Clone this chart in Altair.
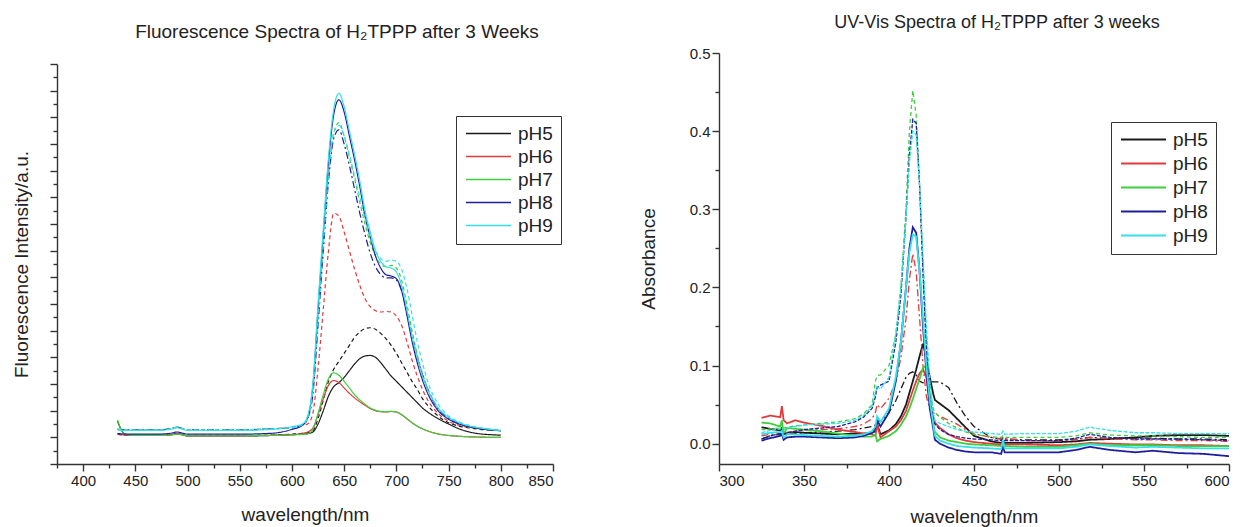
import altair as alt
import pandas as pd

PH = ["pH5", "pH6", "pH7", "pH8", "pH9"]
COLORS = ["#1a1a1a", "#e23b3b", "#3dcf3d", "#1f1f9e", "#35e0e6"]

# ---------------- Fluorescence panel (intensity, a.u.) ----------------
L_WL = [433, 437, 440, 450, 470, 485, 490, 495, 500, 520, 550, 580, 600, 610, 615,
        620, 625, 630, 635, 640, 645, 650, 655, 660, 665, 670, 675, 680, 685, 690,
        695, 700, 705, 710, 715, 720, 725, 730, 740, 750, 760, 770, 780, 790, 800]

L_PH5_SOLID = [160, 125, 112, 107, 107, 110, 114, 110, 105, 105, 105, 107, 110, 112, 114,
               120, 150, 200, 255, 290, 305, 325, 350, 375, 395, 405, 407, 400, 380, 355,
               330, 310, 290, 270, 250, 230, 210, 195, 170, 150, 132, 120, 113, 110, 108]
L_PH5_DASH = [112, 109, 108, 107, 107, 110, 114, 110, 107, 107, 107, 108, 112, 115, 118,
              125, 170, 240, 310, 355, 385, 415, 445, 475, 495, 508, 511, 505, 490, 470,
              445, 415, 380, 345, 310, 280, 245, 220, 180, 155, 142, 135, 130, 127, 125]
L_PH6_SOLID = [115, 110, 108, 107, 107, 110, 113, 110, 106, 106, 106, 108, 110, 115, 120,
               135, 185, 245, 295, 313, 305, 285, 265, 248, 233, 220, 208, 200, 196, 195,
               197, 195, 185, 170, 155, 142, 132, 124, 113, 107, 104, 102, 101, 100, 100]
L_PH6_DASH = [130, 129, 128, 128, 128, 133, 138, 133, 128, 128, 128, 132, 138, 145, 150,
              190, 360, 580, 800, 940, 930, 870, 800, 730, 670, 620, 590, 575, 570, 572,
              570, 555, 520, 460, 390, 330, 280, 240, 190, 160, 145, 138, 132, 128, 125]
L_PH7_SOLID = [165, 125, 112, 107, 107, 109, 112, 109, 106, 106, 106, 107, 109, 111, 113,
               130, 190, 260, 320, 342, 333, 310, 285, 260, 240, 224, 210, 202, 197, 196,
               197, 195, 185, 170, 155, 142, 132, 124, 113, 107, 104, 102, 101, 100, 100]
L_PH7_DASH = [130, 129, 128, 128, 128, 133, 138, 133, 128, 128, 128, 132, 135, 145, 170,
              280, 560, 830, 1080, 1240, 1280, 1230, 1150, 1070, 980, 900, 830, 780, 750, 740,
              745, 735, 690, 600, 500, 410, 340, 285, 210, 175, 155, 142, 135, 130, 126]
L_PH8_SOLID = [114, 113, 112, 112, 112, 116, 120, 116, 112, 112, 112, 115, 130, 145, 175,
               290, 580, 860, 1130, 1310, 1366, 1320, 1230, 1140, 1040, 930, 850, 780, 735, 710,
               705, 695, 650, 560, 460, 380, 315, 265, 200, 168, 150, 140, 133, 128, 125]
L_PH8_DASH = [130, 129, 128, 128, 128, 133, 138, 133, 128, 128, 128, 132, 136, 146, 170,
              260, 520, 800, 1060, 1220, 1253, 1200, 1120, 1030, 940, 860, 790, 740, 710, 698,
              698, 690, 650, 570, 480, 400, 335, 280, 205, 172, 152, 140, 133, 128, 125]
L_PH9_SOLID = [128, 127, 126, 126, 126, 131, 136, 131, 126, 126, 126, 130, 140, 150, 180,
               300, 600, 880, 1150, 1330, 1390, 1340, 1250, 1160, 1060, 950, 870, 800, 760, 740,
               735, 720, 670, 580, 480, 400, 330, 280, 210, 175, 155, 142, 135, 130, 125]
L_PH9_DASH = [130, 129, 128, 128, 128, 133, 138, 133, 128, 128, 128, 132, 136, 146, 172,
              275, 540, 820, 1080, 1240, 1270, 1230, 1160, 1080, 1000, 920, 850, 800, 770, 760,
              765, 760, 730, 660, 560, 460, 380, 310, 225, 180, 158, 145, 136, 130, 127]

# ---------------- UV-Vis panel (absorbance) ----------------
R_WL = [325, 330, 336, 337, 338, 340, 345, 350, 360, 370, 380, 385, 390, 392, 393, 395,
        400, 404, 407, 410, 412, 414, 416, 418, 420, 422, 424, 426, 427, 430, 435, 440,
        445, 450, 460, 466, 467, 468, 480, 500, 510, 518, 530, 545, 555, 570, 585, 600]

R_PH5_SOLID = [0.021, 0.019, 0.017, 0.02, 0.012, 0.014, 0.015, 0.014, 0.013, 0.012, 0.013, 0.013, 0.014, 0.016, 0.025, 0.012,
               0.017, 0.025, 0.035, 0.05, 0.065, 0.08, 0.095, 0.112, 0.128, 0.11, 0.085, 0.064, 0.056, 0.051, 0.043, 0.032,
               0.021, 0.01, 0.003, 0.001, 0.003, 0.001, 0.001, 0.002, 0.003, 0.005, 0.006, 0.008, 0.01, 0.011, 0.011, 0.01]
R_PH5_DASH = [0.006, 0.01, 0.012, 0.012, 0.01, 0.012, 0.013, 0.014, 0.015, 0.016, 0.018, 0.02, 0.022, 0.024, 0.03, 0.028,
              0.04, 0.055, 0.07, 0.085, 0.09, 0.092, 0.088, 0.08, 0.078, 0.079, 0.08, 0.079, 0.079, 0.079, 0.072, 0.052,
              0.035, 0.022, 0.008, 0.006, 0.007, 0.006, 0.005, 0.005, 0.006, 0.008, 0.007, 0.007, 0.007, 0.006, 0.006, 0.005]
R_PH6_SOLID = [0.033, 0.036, 0.034, 0.048, 0.03, 0.026, 0.03, 0.027, 0.023, 0.018, 0.015, 0.013, 0.012, 0.01, 0.025, 0.008,
               0.016, 0.022, 0.03, 0.042, 0.055, 0.068, 0.08, 0.09, 0.095, 0.085, 0.055, 0.035, 0.027, 0.02, 0.012, 0.007,
               0.004, 0.002, 0.0, -0.001, 0.0, -0.001, -0.001, -0.002, -0.001, 0.001, 0.0, -0.001, -0.001, -0.002, -0.002, -0.003]
R_PH6_DASH = [0.01, 0.012, 0.013, 0.013, 0.012, 0.014, 0.016, 0.017, 0.018, 0.019, 0.022, 0.025, 0.032, 0.04, 0.05, 0.045,
              0.058, 0.08, 0.11, 0.16, 0.21, 0.243, 0.22, 0.16, 0.1, 0.06, 0.045, 0.04, 0.038, 0.035, 0.03, 0.025,
              0.018, 0.013, 0.008, 0.006, 0.008, 0.006, 0.004, 0.004, 0.005, 0.008, 0.006, 0.005, 0.005, 0.004, 0.004, 0.003]
R_PH7_SOLID = [0.027, 0.026, 0.022, 0.03, 0.012, 0.02, 0.019, 0.018, 0.016, 0.013, 0.01, 0.009, 0.009, 0.012, 0.003, 0.006,
               0.01, 0.016, 0.024, 0.035, 0.045, 0.057, 0.07, 0.083, 0.097, 0.1, 0.06, 0.025, 0.015, 0.008, 0.004, 0.002,
               0.0, -0.001, -0.002, -0.003, -0.001, -0.003, -0.004, -0.004, -0.002, 0.0, -0.002, -0.002, -0.002, -0.003, -0.003, -0.003]
R_PH7_DASH = [0.018, 0.019, 0.02, 0.02, 0.02, 0.021, 0.023, 0.024, 0.026, 0.028, 0.032, 0.038, 0.05, 0.08, 0.087, 0.088,
              0.1, 0.14, 0.2, 0.3, 0.4, 0.452, 0.42, 0.33, 0.22, 0.13, 0.07, 0.045, 0.04, 0.034, 0.026, 0.02,
              0.015, 0.012, 0.009, 0.008, 0.01, 0.008, 0.008, 0.008, 0.01, 0.014, 0.011, 0.01, 0.01, 0.009, 0.008, 0.008]
R_PH8_SOLID = [0.004, 0.007, 0.01, 0.012, 0.005, 0.008, 0.009, 0.009, 0.008, 0.007, 0.008, 0.01, 0.014, 0.02, 0.03, 0.022,
               0.04, 0.08, 0.13, 0.2, 0.25, 0.277, 0.27, 0.22, 0.15, 0.09, 0.045, 0.02, 0.005, 0.0, -0.005, -0.008,
               -0.01, -0.011, -0.011, -0.013, -0.003, -0.011, -0.011, -0.011, -0.008, -0.004, -0.008, -0.011, -0.009, -0.012, -0.013, -0.016]
R_PH8_DASH = [0.006, 0.01, 0.013, 0.013, 0.012, 0.014, 0.016, 0.018, 0.02, 0.022, 0.028, 0.034, 0.045, 0.06, 0.072, 0.075,
              0.08, 0.13, 0.19, 0.29, 0.37, 0.415, 0.41, 0.33, 0.22, 0.12, 0.06, 0.03, 0.025, 0.018, 0.012, 0.009,
              0.007, 0.006, 0.005, 0.004, 0.006, 0.004, 0.004, 0.004, 0.007, 0.012, 0.008, 0.006, 0.006, 0.006, 0.005, 0.004]
R_PH9_SOLID = [0.012, 0.014, 0.015, 0.016, 0.008, 0.012, 0.012, 0.011, 0.01, 0.009, 0.01, 0.012, 0.016, 0.022, 0.035, 0.028,
               0.045, 0.085, 0.13, 0.2, 0.245, 0.268, 0.265, 0.22, 0.16, 0.1, 0.055, 0.025, 0.01, 0.004, 0.0, -0.003,
               -0.004, -0.005, -0.006, -0.007, 0.005, -0.006, -0.006, -0.006, -0.004, -0.001, -0.003, -0.005, -0.004, -0.005, -0.006, -0.006]
R_PH9_DASH = [0.014, 0.017, 0.019, 0.02, 0.018, 0.02, 0.022, 0.024, 0.025, 0.026, 0.03, 0.036, 0.048, 0.065, 0.073, 0.07,
              0.085, 0.14, 0.2, 0.29, 0.36, 0.4, 0.395, 0.33, 0.24, 0.15, 0.08, 0.04, 0.03, 0.026, 0.022, 0.018,
              0.016, 0.015, 0.013, 0.012, 0.016, 0.012, 0.013, 0.013, 0.016, 0.021, 0.017, 0.014, 0.014, 0.013, 0.013, 0.013]

FONT = "Liberation Sans"
TXT = "#222222"
AX = "#333333"


def build(wl, series, valname):
    rows = []
    for ph, style, vals in series:
        for w, v in zip(wl, vals):
            rows.append({"wavelength": w, valname: v, "pH": ph, "style": style})
    return pd.DataFrame(rows)


dfL = build(L_WL, [
    ("pH5", "solid", L_PH5_SOLID), ("pH5", "dashed", L_PH5_DASH),
    ("pH6", "solid", L_PH6_SOLID), ("pH6", "dashed", L_PH6_DASH),
    ("pH7", "solid", L_PH7_SOLID), ("pH7", "dashed", L_PH7_DASH),
    ("pH8", "solid", L_PH8_SOLID), ("pH8", "dashdot", L_PH8_DASH),
    ("pH9", "solid", L_PH9_SOLID), ("pH9", "dashed", L_PH9_DASH),
], "intensity")

dfR = build(R_WL, [
    ("pH5", "solid", R_PH5_SOLID), ("pH5", "dashdot", R_PH5_DASH),
    ("pH6", "solid", R_PH6_SOLID), ("pH6", "dashdot", R_PH6_DASH),
    ("pH7", "solid", R_PH7_SOLID), ("pH7", "dashed", R_PH7_DASH),
    ("pH8", "solid", R_PH8_SOLID), ("pH8", "fine", R_PH8_DASH),
    ("pH9", "solid", R_PH9_SOLID), ("pH9", "fine", R_PH9_DASH),
], "absorbance")

dash_scale = alt.Scale(domain=["solid", "dashed", "dashdot", "fine"],
                       range=[[1, 0], [4, 3], [7, 3, 2, 3], [4, 1.5]])
color_scale = alt.Scale(domain=PH, range=COLORS)


def legend(x, y, sw, rp):
    return alt.Legend(orient="none", legendX=x, legendY=y, title=None, direction="vertical",
                      symbolType="M-1,0L5,0", symbolSize=225, symbolStrokeWidth=sw,
                      labelFont=FONT, labelFontSize=19, labelColor=TXT,
                      strokeColor=AX, fillColor="white", padding=8, rowPadding=rp,
                      labelOffset=35)


def axis_common(**kw):
    base = dict(domainColor=AX, tickColor=AX, domainWidth=1.4, tickWidth=1.4,
                labelFont=FONT, labelFontSize=15, labelColor=TXT,
                titleFont=FONT, titleFontSize=19, titleFontWeight="normal", titleColor=TXT,
                grid=False)
    base.update(kw)
    return alt.Axis(**base)


left = alt.Chart(dfL).mark_line(interpolate="monotone", strokeWidth=1.2).encode(
    x=alt.X("wavelength:Q",
            scale=alt.Scale(domain=[375, 850], nice=False, zero=False),
            axis=axis_common(title="wavelength/nm", values=list(range(375, 851, 25)),
                             labelExpr="datum.value % 50 == 0 ? datum.label : ''",
                             tickSize={"condition": {"test": "datum.value % 50 == 0", "value": 7}, "value": 4},
                             titlePadding=17)),
    y=alt.Y("intensity:Q",
            scale=alt.Scale(domain=[0, 1500], range=[411, 11], nice=False, zero=False),
            axis=axis_common(title="Fluorescence Intensity/a.u.", values=list(range(0, 1501, 50)),
                             labels=False,
                             tickSize={"condition": {"test": "datum.value % 100 == 0", "value": 7}, "value": 4},
                             titlePadding=18)),
    color=alt.Color("pH:N", scale=color_scale, legend=legend(399, 63, 1.3, 3)),
    strokeDash=alt.StrokeDash("style:N", scale=dash_scale, legend=None),
).properties(
    width=496, height=411,
    title=alt.TitleParams("Fluorescence Spectra of H₂TPPP after 3 Weeks", font=FONT, fontSize=19,
                          fontWeight="normal", color=TXT, anchor="middle", dx=32, offset=11),
)

right = alt.Chart(dfR).mark_line(interpolate="linear").encode(
    x=alt.X("wavelength:Q",
            scale=alt.Scale(domain=[300, 600], nice=False, zero=False),
            axis=axis_common(title="wavelength/nm", values=list(range(300, 601, 25)),
                             labelExpr="datum.value % 50 == 0 ? datum.label : ''",
                             tickSize={"condition": {"test": "datum.value % 50 == 0", "value": 7}, "value": 4},
                             titlePadding=19)),
    y=alt.Y("absorbance:Q",
            scale=alt.Scale(domain=[-0.026, 0.5], nice=False, zero=False),
            axis=axis_common(title="Absorbance", values=[i * 0.05 for i in range(0, 11)],
                             labelExpr="abs(datum.value * 10 - round(datum.value * 10)) < 0.001 ? format(datum.value, '.1f') : ''",
                             tickSize={"condition": {"test": "abs(datum.value * 10 - round(datum.value * 10)) < 0.001", "value": 7}, "value": 4},
                             titlePadding=31)),
    color=alt.Color("pH:N", scale=color_scale, legend=legend(392, 69, 2.2, 4)),
    strokeDash=alt.StrokeDash("style:N", scale=dash_scale, legend=None),
    strokeWidth=alt.condition(alt.datum.style == "solid", alt.value(1.8), alt.value(1.3)),
).properties(
    width=510, height=411,
    title=alt.TitleParams("UV-Vis Spectra of H₂TPPP after 3 weeks", font=FONT, fontSize=18,
                          fontWeight="normal", color=TXT, anchor="middle", dx=23, offset=14),
)

chart = alt.hconcat(left, right, spacing=77).resolve_scale(
    color="independent", strokeDash="independent", x="independent", y="independent"
).configure(
    padding={"left": 12, "top": 14, "right": 5, "bottom": 5}, background="white"
).configure_view(stroke=None)

chart.save("out.html", embed_options={"renderer": "svg", "actions": False})
